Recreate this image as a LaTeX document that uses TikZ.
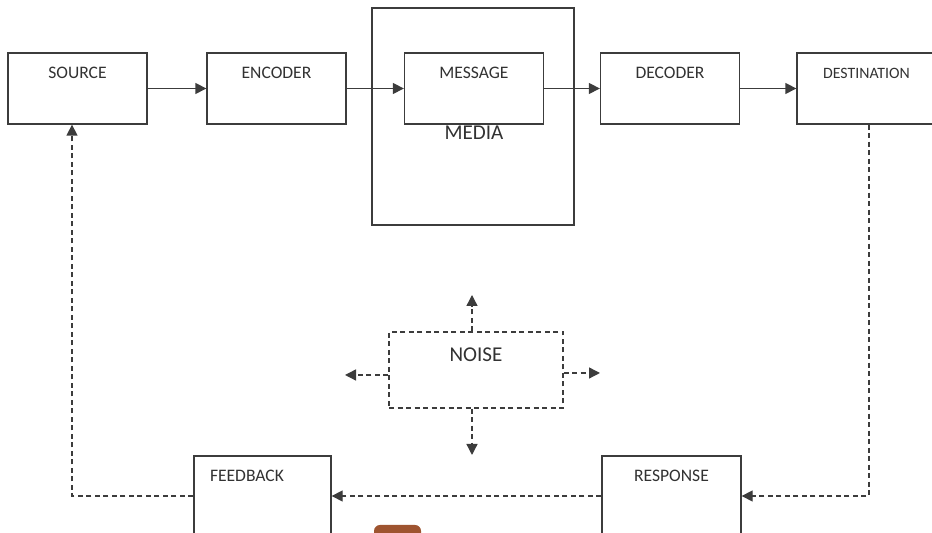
\documentclass[tikz,border=0pt]{standalone}
\usepackage{fontspec}
\setmainfont{Carlito}
\usetikzlibrary{arrows.meta,positioning,calc}
\definecolor{linegray}{RGB}{60,60,60}
\definecolor{txtgray}{RGB}{50,50,50}
\definecolor{tabbrown}{RGB}{158,84,48}

\begin{document}
\begin{tikzpicture}[
  blk/.style={draw=linegray, line width=0.75pt, rectangle, minimum width=2.78cm,
    minimum height=1.42cm, inner sep=0pt, text height=0.51cm, text depth=0.91cm,
    text=txtgray, font=\fontsize{10}{12}\selectfont},
  lowblk/.style={blk, minimum height=1.6cm, text depth=1.09cm},
  noisebox/.style={blk, dash pattern=on 1mm off 0.7mm, minimum width=3.48cm,
    minimum height=1.52cm, text height=0.6cm, text depth=0.92cm,
    font=\fontsize{12}{14}\selectfont},
  lnk/.style={-{Triangle[length=2.2mm, width=2.2mm]}, draw=linegray, line width=0.75pt},
  dlnk/.style={lnk, dash pattern=on 1mm off 0.7mm},
  lbl/.style={text=txtgray, font=\fontsize{12}{14}\selectfont, inner sep=0pt},
]
\useasboundingbox (0,0) rectangle (18.64,10.66);
\clip (0,0) rectangle (18.64,10.66);
% top row
\node[blk, minimum width=4.04cm, minimum height=4.34cm, text height=0pt,
  text depth=0pt] (media) at (9.46,8.33) {};
\node[lbl] (medialbl) at (9.48,8.0) {MEDIA};
\node[blk] (src) at (1.55,8.89) {SOURCE};
\node[blk] (enc) at (5.53,8.89) {ENCODER};
\node[blk] (msg) at (9.48,8.89) {MESSAGE};
\node[blk] (dec) at (13.40,8.89) {DECODER};
\node[blk, font=\fontsize{9}{11}\selectfont] (dest) at (17.33,8.89) {DESTINATION};
\draw[lnk] (src) -- (enc);
\draw[lnk] (enc) -- (msg);
\draw[lnk] (msg) -- (dec);
\draw[lnk] (dec) -- (dest);
% noise
\node[noisebox] (noise) at (9.52,3.26) {NOISE};
\coordinate (nup) at (9.44,4.76);
\coordinate (ndown) at (9.44,1.56);
\coordinate (nleft) at (6.90,3.16);
\coordinate (nright) at (12.0,3.2);
\draw[dlnk] (noise.north -| nup) -- (nup);
\draw[dlnk] (noise.south -| ndown) -- (ndown);
\draw[dlnk] (noise.west |- nleft) -- (nleft);
\draw[dlnk] (noise.east |- nright) -- (nright);
% bottom row
\node[lowblk, text width=2.1cm, inner xsep=0.32cm, align=left,
  minimum width=2.74cm] (feed) at (5.25,0.74) {FEEDBACK};
\node[lowblk] (resp) at (13.43,0.74) {RESPONSE};
\draw[dlnk] ([xshift=0.05cm]dest.south) |- (resp.east);
\draw[dlnk] (resp) -- (feed);
\draw[dlnk] (feed.west) -| ([xshift=-0.11cm]src.south);
\fill[tabbrown, rounded corners=0.12cm] (7.48,0.16) rectangle (8.42,-0.4);
\end{tikzpicture}
\end{document}
